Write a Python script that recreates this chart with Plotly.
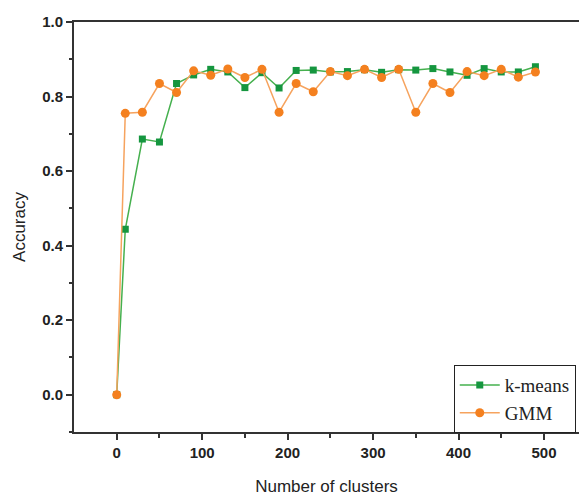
import plotly.graph_objects as go

clusters = [0, 10, 30, 50, 70, 90, 110, 130, 150, 170, 190, 210, 230, 250, 270, 290,
            310, 330, 350, 370, 390, 410, 430, 450, 470, 490]
kmeans = [0.0, 0.444, 0.686, 0.678, 0.835, 0.858, 0.873, 0.866, 0.824, 0.864, 0.823,
          0.870, 0.871, 0.866, 0.867, 0.872, 0.865, 0.872, 0.871, 0.875, 0.866, 0.857,
          0.875, 0.866, 0.866, 0.880]
gmm = [0.0, 0.755, 0.758, 0.835, 0.811, 0.869, 0.857, 0.874, 0.851, 0.873, 0.758,
       0.835, 0.813, 0.867, 0.856, 0.873, 0.851, 0.873, 0.758, 0.835, 0.811, 0.867,
       0.856, 0.873, 0.852, 0.866]

fig = go.Figure()
fig.add_trace(go.Scatter(
    x=clusters, y=kmeans, name="k-means", mode="lines+markers",
    line=dict(color="#45b04e", width=1.5),
    marker=dict(symbol="square", size=7, color="#15963f"),
))
fig.add_trace(go.Scatter(
    x=clusters, y=gmm, name="GMM", mode="lines+markers",
    line=dict(color="#f6a35e", width=1.5),
    marker=dict(symbol="circle", size=9, color="#f4801f"),
))

sans = "Liberation Sans, Arial, sans-serif"
fig.update_layout(
    width=579, height=498,
    margin=dict(l=74, r=0, t=22, b=66, autoexpand=False),
    paper_bgcolor="white", plot_bgcolor="white",
    showlegend=True,
    legend=dict(
        x=0.752, xanchor="left", y=0.163, yanchor="top",
        bgcolor="white", bordercolor="#222", borderwidth=1,
        font=dict(family="Liberation Serif, Times New Roman, serif", size=19, color="#222"),
        tracegroupgap=0, itemwidth=40,
    ),
    xaxis=dict(
        range=[-50, 541], showgrid=False, zeroline=False, automargin=False,
        showline=True, linecolor="#333", linewidth=2, mirror=True,
        ticks="outside", ticklen=6, tickwidth=1.5, tickcolor="#333",
        tickvals=[0, 100, 200, 300, 400, 500],
        minor=dict(tickvals=[50, 150, 250, 350, 450], ticks="outside", ticklen=4,
                   tickcolor="#333", tickwidth=1.5),
        tickfont=dict(family=sans, size=15, color="#222", weight="bold"),
        title=dict(text="Number of clusters",
                   font=dict(family=sans, size=17, color="#222"),
                   standoff=20),
    ),
    yaxis=dict(
        range=[-0.1, 1.0], showgrid=False, zeroline=False, automargin=False,
        showline=True, linecolor="#333", linewidth=2,
        ticks="outside", ticklen=6, tickwidth=1.5, tickcolor="#333",
        tickvals=[0.0, 0.2, 0.4, 0.6, 0.8, 1.0], tickformat=".1f",
        minor=dict(tickvals=[-0.1, 0.1, 0.3, 0.5, 0.7, 0.9], ticks="outside", ticklen=3,
                   tickcolor="#333", tickwidth=1.5),
        tickfont=dict(family=sans, size=15, color="#222", weight="bold"),
        title=dict(text="Accuracy",
                   font=dict(family=sans, size=17, color="#222"),
                   standoff=12),
    ),
)

fig.write_html(
    "out.html",
    config={"displayModeBar": False},
    post_script="document.body.style.margin='0';document.body.style.overflow='hidden';",
)
